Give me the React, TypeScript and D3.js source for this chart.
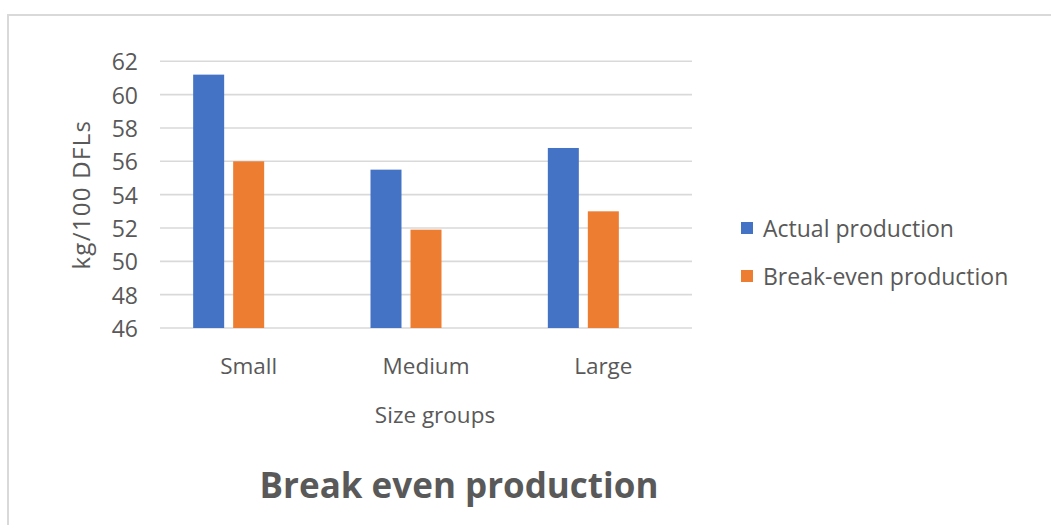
import React from "react";
import * as d3 from "d3";

// Size groups on the category axis
const categories = ["Small", "Medium", "Large"];
// kg per 100 DFLs
const actualProduction = [61.2, 55.5, 56.8];
const breakEvenProduction = [56.0, 51.9, 53.0];
const seriesNames = ["Actual production", "Break-even production"];
const seriesColors = ["#4472C4", "#ED7D31"];
const yTicks = [46, 48, 50, 52, 54, 56, 58, 60, 62];

const W = 1051;
const H = 525;
const plot = { left: 160, right: 692, top: 61.3, bottom: 328 };
const FONT = "'Open Sans', 'Noto Sans', sans-serif";
const TEXT = "#595959";

export default function App() {
  const series = [actualProduction, breakEvenProduction];

  const x0 = d3
    .scaleBand<string>()
    .domain(categories)
    .range([plot.left, plot.right])
    .paddingInner(0.374)
    .paddingOuter(0.187);

  // each group leaves room for three bar slots; two are used
  const x1 = d3
    .scaleBand<number>()
    .domain([0, 1, 2])
    .range([0, x0.bandwidth()])
    .paddingInner(0.225);

  const y = d3
    .scaleLinear()
    .domain([46, 62])
    .range([plot.bottom, plot.top]);

  return (
    <svg
      width={W}
      height={H}
      style={{ position: "absolute", left: 0, top: 0, background: "#fff" }}
      fontFamily={FONT}
    >
      {/* chart frame */}
      <path d={`M8,${H + 2} V15 H${W + 2}`} fill="none" stroke="#d9d9d9" strokeWidth={2} />

      {/* gridlines */}
      {yTicks.map((t) => (
        <line
          key={`g${t}`}
          x1={plot.left}
          x2={plot.right}
          y1={y(t)}
          y2={y(t)}
          stroke="#d9d9d9"
          strokeWidth={1.6}
        />
      ))}

      {/* y tick labels */}
      {yTicks.map((t) => (
        <text
          key={`t${t}`}
          x={plot.left - 22}
          y={y(t)}
          textAnchor="end"
          dominantBaseline="central"
          fontSize={23}
          fill={TEXT}
        >
          {t}
        </text>
      ))}

      {/* bars */}
      {categories.map((c, i) => (
        <g key={c} transform={`translate(${x0(c)},0)`}>
          {series.map((vals, s) => (
            <rect
              key={s}
              x={x1(s)}
              y={y(vals[i])}
              width={x1.bandwidth()}
              height={y(46) - y(vals[i])}
              fill={seriesColors[s]}
            />
          ))}
        </g>
      ))}

      {/* category labels */}
      {categories.map((c) => (
        <text
          key={`c${c}`}
          x={(x0(c) ?? 0) + x0.bandwidth() / 2}
          y={365}
          textAnchor="middle"
          dominantBaseline="central"
          fontSize={22.5}
          fill={TEXT}
        >
          {c}
        </text>
      ))}

      {/* axis titles */}
      <text x={435} y={414} textAnchor="middle" dominantBaseline="central" fontSize={22.5} fill={TEXT}>
        Size groups
      </text>
      <text
        transform={`translate(80,${(plot.top + plot.bottom) / 2}) rotate(-90)`}
        textAnchor="middle"
        dominantBaseline="central"
        fontSize={24}
        letterSpacing={1.3}
        fill={TEXT}
      >
        kg/100 DFLs
      </text>

      {/* chart title */}
      <text x={459} y={484} textAnchor="middle" dominantBaseline="central" fontSize={35} fontWeight="bold" fill={TEXT}>
        Break even production
      </text>

      {/* legend */}
      {seriesNames.map((name, s) => (
        <g key={name} transform={`translate(741,${228 + s * 48})`}>
          <rect x={0} y={-6} width={12} height={12} fill={seriesColors[s]} />
          <text x={22} y={0} dominantBaseline="central" fontSize={23} fill={TEXT}>
            {name}
          </text>
        </g>
      ))}
    </svg>
  );
}
